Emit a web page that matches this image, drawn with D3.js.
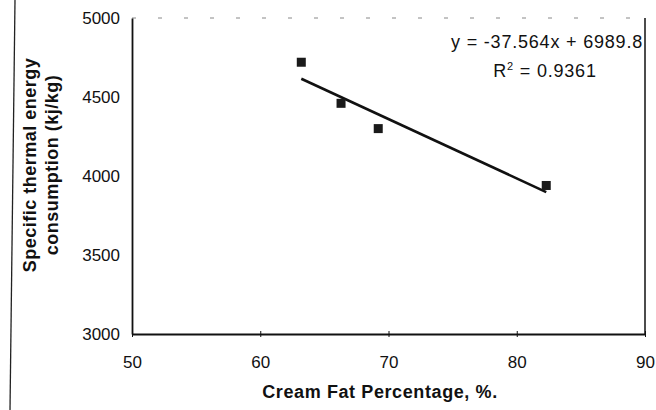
<!DOCTYPE html>
<html>
<head>
<meta charset="utf-8">
<script src="https://cdn.jsdelivr.net/npm/d3@7"></script>
<style>
  body { margin: 0; background: #fff; }
  svg { font-family: "Liberation Sans", Arial, sans-serif; }
</style>
</head>
<body>
<div id="chart"></div>
<script>
// data
var fatPct = [63.2, 66.3, 69.2, 82.3];
var energy = [4720, 4460, 4300, 3940];
var xTicks = [50, 60, 70, 80, 90];
var yTicks = [3000, 3500, 4000, 4500, 5000];
var slope = -37.564, intercept = 6989.8, r2 = "0.9361";

var width = 656, height = 410;
var svg = d3.select("#chart").append("svg")
    .attr("width", width)
    .attr("height", height);

var x = d3.scaleLinear().domain([50, 90]).range([132, 645]);
var y = d3.scaleLinear().domain([3000, 5000]).range([334, 18]);

// frame line on the far left
svg.append("line")
    .attr("x1", 15).attr("x2", 10)
    .attr("y1", 0).attr("y2", 410)
    .attr("stroke", "#222").attr("stroke-width", 1.3);

// plot box
svg.append("line")
    .attr("x1", x(50)).attr("x2", x(90))
    .attr("y1", y(5000)).attr("y2", y(5000))
    .attr("stroke", "#888").attr("stroke-width", 1)
    .attr("stroke-dasharray", "4,22");
svg.append("line")
    .attr("x1", x(90)).attr("x2", x(90))
    .attr("y1", y(5000)).attr("y2", y(3000))
    .attr("stroke", "#111").attr("stroke-width", 1.5);

var xAxis = svg.append("g")
    .attr("transform", "translate(0," + y(3000) + ")")
    .call(d3.axisBottom(x).tickValues(xTicks).tickFormat(d3.format("d"))
      .tickSizeInner(3).tickSizeOuter(0).tickPadding(19));
var yAxis = svg.append("g")
    .attr("transform", "translate(" + x(50) + ",0)")
    .call(d3.axisLeft(y).tickValues(yTicks).tickFormat(d3.format("d"))
      .tickSize(0).tickPadding(12));

[xAxis, yAxis].forEach(function(a) {
  a.attr("font-size", 17).attr("font-family", "Liberation Sans, Arial, sans-serif");
  a.select(".domain").attr("stroke", "#111").attr("stroke-width", 1.8);
  a.selectAll("text").attr("fill", "#111");
  a.selectAll(".tick line").attr("stroke", "#111").attr("y1", -3);
});
yAxis.selectAll(".tick line").attr("y1", 0);

// trend line
var x0 = d3.min(fatPct), x1 = d3.max(fatPct);
svg.append("line")
    .attr("x1", x(x0)).attr("y1", y(slope * x0 + intercept))
    .attr("x2", x(x1)).attr("y2", y(slope * x1 + intercept))
    .attr("stroke", "#111").attr("stroke-width", 2.6);

// points
var pts = fatPct.map(function(d, i) { return {x: d, y: energy[i]}; });
svg.selectAll("rect.pt")
    .data(pts)
    .enter()
    .append("rect")
    .attr("class", "pt")
    .attr("x", function(d) { return x(d.x) - 4.5; })
    .attr("y", function(d) { return y(d.y) - 4.5; })
    .attr("width", 9).attr("height", 9)
    .attr("fill", "#1a1a1a");

// equation
svg.append("text")
    .attr("x", 643).attr("y", 48)
    .attr("text-anchor", "end")
    .attr("font-size", 18).attr("letter-spacing", 0.8).attr("fill", "#111")
    .text("y = -37.564x + 6989.8");
var rt = svg.append("text")
    .attr("x", 545).attr("y", 77)
    .attr("text-anchor", "middle")
    .attr("font-size", 18).attr("letter-spacing", 0.8).attr("fill", "#111");
rt.append("tspan").text("R");
rt.append("tspan").attr("dy", -7).attr("font-size", 11).text("2");
rt.append("tspan").attr("dy", 7).text(" = " + r2);

// axis titles
svg.append("text")
    .attr("x", 380).attr("y", 398)
    .attr("text-anchor", "middle")
    .attr("font-size", 18).attr("font-weight", "bold").attr("letter-spacing", 0.6)
    .attr("fill", "#111")
    .text("Cream Fat Percentage, %.");

var yt = svg.append("text")
    .attr("transform", "translate(36,165) rotate(-90)")
    .attr("text-anchor", "middle")
    .attr("font-size", 18).attr("font-weight", "bold").attr("letter-spacing", 0.5)
    .attr("fill", "#111");
yt.append("tspan").attr("x", 0).attr("dy", 0).text("Specific thermal energy");
yt.append("tspan").attr("x", 0).attr("dy", 22).text("consumption (kj/kg)");
</script>
</body>
</html>
